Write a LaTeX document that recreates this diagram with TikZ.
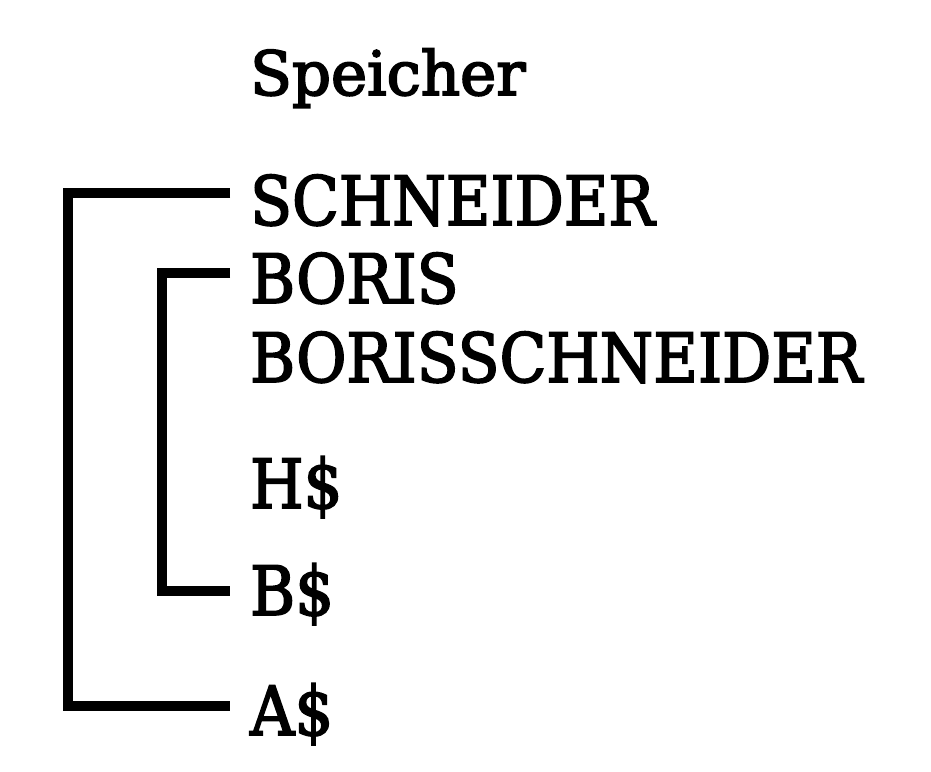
\documentclass[tikz,border=0pt]{standalone}
\usepackage{fontspec}
\setmainfont{DejaVu Serif}
\newfontfamily\slabfont{DejaVu Serif}[FakeStretch=0.9,FakeBold=2.5]
\newfontfamily\headfont{DejaVu Serif}[FakeBold=3]
\usetikzlibrary{positioning}

\begin{document}
\begin{tikzpicture}[
  x=1pt, y=-1pt,
  lbl/.style={anchor=base west, inner sep=0pt, font=\slabfont\fontsize{68}{68}\selectfont},
  head/.style={anchor=base west, inner sep=0pt, font=\headfont\fontsize{61}{61}\selectfont},
  brk/.style={line width=10pt, line join=miter}]
  \useasboundingbox (0,0) rectangle (931,771);
  \node[head] (mem) at (250,95) {Speicher};
  \node[lbl] (sch) at (250,225) {SCHNEIDER};
  \node[lbl] (bor) at (250,303) {BORIS};
  \node[lbl] (bsch) at (250,382) {BORISSCHNEIDER};
  \node[lbl] (hs) at (250,508) {H\$};
  \node[lbl] (bs) at (250,615) {B\$};
  \node[lbl] (as) at (250,735) {A\$};
  % bracket ends, just left of the texts
  \coordinate (e1) at ([xshift=-20pt,yshift=32pt]sch.base west);
  \coordinate (e2) at ([xshift=-20pt,yshift=29pt]as.base west);
  \coordinate (e3) at ([xshift=-20pt,yshift=30pt]bor.base west);
  \coordinate (e4) at ([xshift=-20pt,yshift=24pt]bs.base west);
  % bracket columns
  \coordinate (outer) at (68,0);
  \coordinate (inner) at (162,0);
  \draw[brk] (e1) -- (e1 -| outer) |- (e2);
  \draw[brk] (e3) -- (e3 -| inner) |- (e4);
\end{tikzpicture}
\end{document}
